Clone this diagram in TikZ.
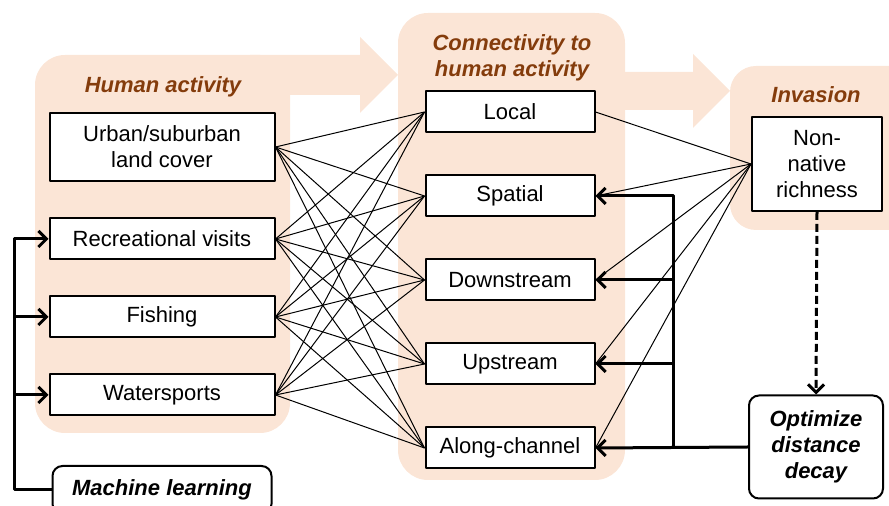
\documentclass[tikz,border=0pt]{standalone}
\usepackage{fontspec}
\setmainfont{Liberation Sans}
\usepackage[usenames]{xcolor}
\usepackage{tikz}
\usetikzlibrary{arrows.meta}
\definecolor{panelfill}{HTML}{FBE5D6}
\definecolor{ttlbrown}{HTML}{843C0C}

\begin{document}
\begin{tikzpicture}[line join=round,x=0.5pt,y=-0.5pt,
  >={Straight Barb[length=4pt,width=8pt]},
  bx/.style={draw,line width=1pt,fill=white,align=center,inner sep=0pt,font=\fontsize{11}{13}\selectfont},
  actbox/.style={bx,minimum width=112.5pt,minimum height=20.5pt},
  conbox/.style={bx,minimum width=84.5pt,minimum height=20.5pt},
  methbox/.style={bx,rounded corners=5pt,font=\fontsize{11}{13}\selectfont\bfseries\itshape},
  ttl/.style={align=center,text=ttlbrown,font=\fontsize{11}{13}\selectfont\bfseries\itshape},
  link/.style={line width=0.5pt},
  thk/.style={line width=1.5pt}]
\useasboundingbox (0,0) rectangle (889,506);
\clip (0,0) rectangle (889,506);
\fill[panelfill,rounded corners=15pt] (35,55) rectangle (290,433);
\fill[panelfill] (250,55) -- (360,55) -- (360,37) -- (398,75) -- (360,113) -- (360,95) -- (280,95) -- cycle;
\fill[panelfill,rounded corners=15pt] (398,13) rectangle (625,480);
\fill[panelfill] (620,72) -- (693,72) -- (693,54) -- (730,91) -- (693,128) -- (693,110) -- (620,110) -- cycle;
\fill[panelfill,rounded corners=13pt] (730,66) rectangle (920,230);
\node[ttl] (tthum) at (163,87) {Human activity};
\node[ttl] (ttcon) at (512,58) {Connectivity to\\human activity};
\node[ttl] (ttinv) at (816,95) {Invasion};
\node[actbox,minimum height=34pt] (urban) at (162,147) {Urban/suburban\\land cover};
\node[actbox] (recr) at (162,239) {Recreational visits};
\node[actbox] (fish) at (162,317) {Fishing};
\node[actbox] (water) at (162,395) {Watersports};
\node[methbox,minimum width=109.5pt,minimum height=24pt] (ml) at (162,490) {Machine learning};
\node[conbox] (local) at (510,112) {Local};
\node[conbox] (spatial) at (510,196) {Spatial};
\node[conbox] (down) at (510,280) {Downstream};
\node[conbox] (up) at (510,364) {Upstream};
\node[conbox] (along) at (510,448) {Along-channel};
\node[bx,minimum width=65pt,minimum height=47pt] (rich) at (817,164) {Non-\\native\\richness};
\node[methbox,minimum width=67pt,minimum height=51.5pt] (opt) at (816,447) {Optimize\\distance\\decay};
\foreach \a in {urban,recr,fish,water}
  \foreach \b in {local,spatial,down,up,along}
    \draw[link] (\a.east) -- (\b.west);
\foreach \b in {local,spatial,down,up,along}
  \draw[link] (rich.west) -- (\b.east);
\coordinate (rbus) at (673,448);
\coordinate (lbus) at (14,490);
\draw[thk,->] (opt.west) -- (along.east);
\draw[thk,->] (rbus) |- (spatial.east);
\draw[thk,->] (rbus |- down.east) -- (down.east);
\draw[thk,->] (rbus |- up.east) -- (up.east);
\draw[thk,->] (ml.west) -- (lbus) |- (recr.west);
\draw[thk,->] (lbus |- fish.west) -- (fish.west);
\draw[thk,->] (lbus |- water.west) -- (water.west);
\draw[thk,dash pattern=on 4pt off 2pt,->] (rich.south) -- (opt.north);
\end{tikzpicture}
\end{document}
